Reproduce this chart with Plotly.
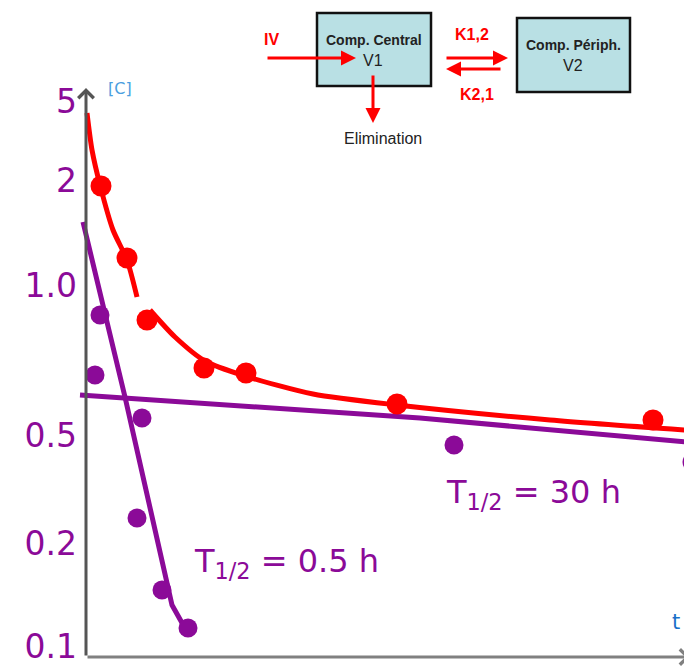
import plotly.graph_objects as go

# ---------------- data (graduation units) ----------------
# y-axis graduations: labels and their positions on the drawn axis
tick_labels = ["5", "2", "1.0", "0.5", "0.2", "0.1"]
tick_pos = [55.6, 47.7, 37.2, 22.2, 11.4, 1.1]

# measured concentrations (red) and their fitted bi-exponential curve
red_t = [1.5, 4.1, 6.1, 11.8, 16.0, 31.1, 56.7]
red_c = [47.1, 39.9, 33.7, 28.9, 28.4, 25.3, 23.7]
red_curve_t = [0.1, 0.6, 1.4, 2.7, 4.1, 5.1, None, 6.4, 8.9, 11.9, 15.9, 22.7, 31.1, 46.4, 59.9]
red_curve_c = [54.4, 50.7, 47.2, 42.7, 39.7, 36.0, None, 34.7, 32.0, 29.6, 28.1, 26.3, 25.2, 23.7, 22.7]

# residual points (purple) and the two phase lines
purple_t = [1.4, 0.9, 5.6, 5.1, 7.6, 10.2, 36.8, 60.6]
purple_c = [34.2, 28.2, 23.9, 13.9, 6.7, 2.9, 21.2, 19.5]
fast_t = [-0.3, 3.9, 8.6, 10.0]
fast_c = [43.5, 26.0, 5.2, 2.7]
slow_t = [-0.6, 9.4, 33.4, 60.0]
slow_c = [26.2, 25.5, 23.9, 21.5]

RED = "#FF0000"
PURPLE = "#8B0A98"

# the page body adds an 8 px offset; the figure is sized to fill the rest of the window
OFF = 8
PAGE_W, PAGE_H = 692, 667
W, H = PAGE_W - OFF, PAGE_H - OFF
PLOT_LEFT = 78               # page pixel of plot area left edge
L = PLOT_LEFT - OFF


def fx(px):
    return (px - PLOT_LEFT) / (PAGE_W - PLOT_LEFT)


def fy(py):
    return (PAGE_H - py) / (PAGE_H - OFF)


fig = go.Figure()
fig.add_trace(go.Scatter(x=red_curve_t, y=red_curve_c, mode="lines",
                         line=dict(color=RED, width=5, shape="spline", smoothing=0.7),
                         connectgaps=False, hoverinfo="skip"))
fig.add_trace(go.Scatter(x=slow_t, y=slow_c, mode="lines", line=dict(color=PURPLE, width=5), hoverinfo="skip"))
fig.add_trace(go.Scatter(x=fast_t, y=fast_c, mode="lines", line=dict(color=PURPLE, width=5), hoverinfo="skip"))
fig.add_trace(go.Scatter(x=red_t, y=red_c, mode="markers", marker=dict(color=RED, size=21)))
fig.add_trace(go.Scatter(x=purple_t, y=purple_c, mode="markers", marker=dict(color=PURPLE, size=19)))

ann = []
# axes drawn as arrows
ann.append(dict(xref="x", yref="y", axref="x", ayref="y", x=0, y=(657 - 88) / 10, ax=0, ay=0, text="",
                showarrow=True, arrowhead=4, arrowwidth=3, arrowsize=1, arrowcolor="#555555", standoff=0))
ann.append(dict(xref="x", yref="y", axref="x", ayref="y", x=(690 - 86) / 10, y=0, ax=0, ay=0, text="",
                showarrow=True, arrowhead=4, arrowwidth=3, arrowsize=1, arrowcolor="#808080", standoff=0))

# half-life labels
ann.append(dict(xref="x", yref="y", x=10.6, y=9.4, text="T<sub>1/2</sub> = 0.5 h", showarrow=False,
                xanchor="left", yanchor="middle", font=dict(family="DejaVu Sans", size=32, color=PURPLE)))
ann.append(dict(xref="x", yref="y", x=35.8, y=16.3, text="T<sub>1/2</sub> = 30 h", showarrow=False,
                xanchor="left", yanchor="middle", font=dict(family="DejaVu Sans", size=32, color=PURPLE)))


def label(px, py, txt, size, color, bold=False, family="Liberation Sans, Arial"):
    return dict(xref="paper", yref="paper", x=fx(px), y=fy(py), text=f"<b>{txt}</b>" if bold else txt,
                showarrow=False, xanchor="center", yanchor="middle",
                font=dict(family=family, size=size, color=color))


# axis names
ann.append(label(120, 89, "[C]", 16, "#4A9EE0", family="DejaVu Sans"))
ann.append(label(676, 622, "t", 21, "#1A6FC8", family="DejaVu Sans"))


# compartment diagram
def arrow(tx, ty, hx, hy):
    return dict(xref="paper", yref="paper", x=fx(hx), y=fy(hy), ax=tx - hx, ay=ty - hy, text="",
                showarrow=True, arrowhead=2, arrowwidth=3, arrowsize=1, arrowcolor=RED, standoff=0)


ann += [
    arrow(266, 58, 356, 58),
    arrow(445, 58, 508, 58),
    arrow(502, 69, 446, 69),
    arrow(373, 74, 373, 123),
    label(271, 40, "IV", 16, RED, True),
    label(472, 35, "K1,2", 16, RED, True),
    label(477, 95, "K2,1", 16, RED, True),
    label(374, 40, "Comp. Central", 14, "#222222", True),
    label(373, 60, "V1", 16, "#222222"),
    label(573, 45, "Comp. Périph.", 14, "#222222", True),
    label(573, 65, "V2", 16, "#222222"),
    label(383, 138, "Elimination", 16, "#222222"),
]

shapes = [
    dict(type="rect", xref="paper", yref="paper", x0=fx(317), x1=fx(431), y0=fy(86), y1=fy(13),
         fillcolor="#B9E0E4", line=dict(color="#111111", width=2.5), layer="below"),
    dict(type="rect", xref="paper", yref="paper", x0=fx(517), x1=fx(630), y0=fy(92), y1=fy(18),
         fillcolor="#B9E0E4", line=dict(color="#111111", width=2.5), layer="below"),
]

fig.update_layout(
    width=W, height=H,
    margin=dict(l=L, r=0, t=0, b=0, autoexpand=False),
    paper_bgcolor="white", plot_bgcolor="white",
    showlegend=False,
    annotations=ann, shapes=shapes,
    xaxis=dict(range=[(PLOT_LEFT - 86) / 10, (PAGE_W - 86) / 10], visible=False, showgrid=False,
               zeroline=False, automargin=False),
    yaxis=dict(range=[(657 - PAGE_H) / 10, (657 - OFF) / 10], showgrid=False, zeroline=False, showline=False,
               automargin=False, tickvals=tick_pos, ticktext=tick_labels, ticks="",
               tickfont=dict(family="DejaVu Sans", size=33, color=PURPLE)),
)

fig.write_html("out.html")
